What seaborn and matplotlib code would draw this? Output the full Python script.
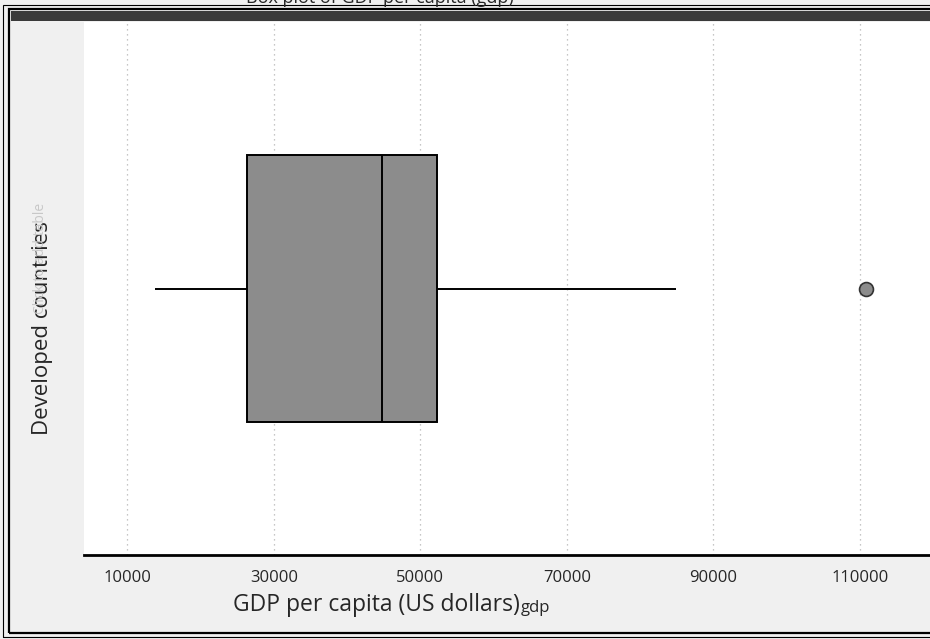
import matplotlib
matplotlib.use("Agg")
import matplotlib.pyplot as plt
from matplotlib.patches import Rectangle
from matplotlib.ticker import MultipleLocator
import seaborn as sns
import pandas as pd

# ---- data ----
category = "Developed countries"
gdp_values = [13780, 20000, 26300, 35000, 44720, 48000, 52310, 84890, 110820]
major_ticks = [10000, 30000, 50000, 70000, 90000, 110000]
x_label = "GDP per capita (US dollars)"
var_name = "gdp"
title_text = "Box plot of GDP per capita (gdp)"
watermark = "Click to add table"

df = pd.DataFrame({"gdp": gdp_values, "group": [category] * len(gdp_values)})

sns.set_style("white")
plt.rcParams["font.family"] = ["Open Sans", "DejaVu Sans"]

W, H = 930, 639
fig = plt.figure(figsize=(W / 100, H / 100), dpi=100, facecolor="#f0f0f0")

def fx(px):
    return px / W

def fy(py):
    return 1 - py / H

ax = fig.add_axes([fx(84), fy(555), fx(930) - fx(84), fy(22) - fy(555)])
ax.set_facecolor("white")

sns.boxplot(data=df, x="gdp", y="group", orient="h", ax=ax, width=0.5,
            color="#8c8c8c", saturation=1, linecolor="black", linewidth=1.4,
            showcaps=False, whis=1.5,
            flierprops=dict(marker="o", markerfacecolor="#8c8c8c",
                            markeredgecolor="#333333", markersize=10,
                            markeredgewidth=1.2))

ax.set_xlim(4090, 119555)
ax.set_ylim(0.5, -0.5)
ax.set_xticks(major_ticks)
ax.set_xticklabels([str(t) for t in major_ticks], fontsize=12)
ax.xaxis.set_minor_locator(MultipleLocator(10000))
ax.tick_params(axis="x", which="major", direction="out", length=8, width=1.3,
               color="black", pad=3)
ax.tick_params(axis="x", which="minor", direction="out", length=4, width=1,
               color="black")
ax.grid(axis="x", which="major", linestyle=(0, (1, 3)), color="#b4b4b4",
        linewidth=0.9)
ax.set_axisbelow(True)

ax.set_yticks([])
ax.set_ylabel(category, fontsize=16, rotation=90, ha="center", va="center",
              rotation_mode="anchor")
ax.yaxis.set_label_coords((43 - 84) / 846, (555 - 328) / 533)

ax.set_xlabel(x_label, fontsize=16.5, ha="center", va="center")
ax.xaxis.set_label_coords((376 - 84) / 846, -(605 - 555) / 533)

for side in ["top", "right", "left"]:
    ax.spines[side].set_visible(False)
ax.spines["bottom"].set_linewidth(2)
ax.spines["bottom"].set_color("black")

# small variable name next to axis label
fig.text(fx(535), fy(608), var_name, fontsize=12, ha="center", va="center")

# faint watermark behind the category label
fig.text(fx(40), fy(258), watermark, fontsize=10, color="#c8c8c8",
         rotation=90, ha="center", va="center")

# clipped title at the very top
fig.text(fx(380), fy(3), title_text, fontsize=13, ha="center", va="baseline")

# frame: outer thin border, inner heavy border, dark band
fig.add_artist(Rectangle((fx(3), fy(637)), fx(940) - fx(3), fy(5) - fy(637),
                         transform=fig.transFigure, fill=False,
                         edgecolor="black", linewidth=0.8))
fig.add_artist(Rectangle((fx(9), fy(633)), fx(940) - fx(9), fy(9) - fy(633),
                         transform=fig.transFigure, fill=False,
                         edgecolor="black", linewidth=1.6))
fig.add_artist(Rectangle((fx(11), fy(21)), fx(935) - fx(11), fy(11) - fy(21),
                         transform=fig.transFigure, facecolor="#3a3a3a",
                         edgecolor="none"))

fig.savefig("out.png", dpi=100, facecolor=fig.get_facecolor())
